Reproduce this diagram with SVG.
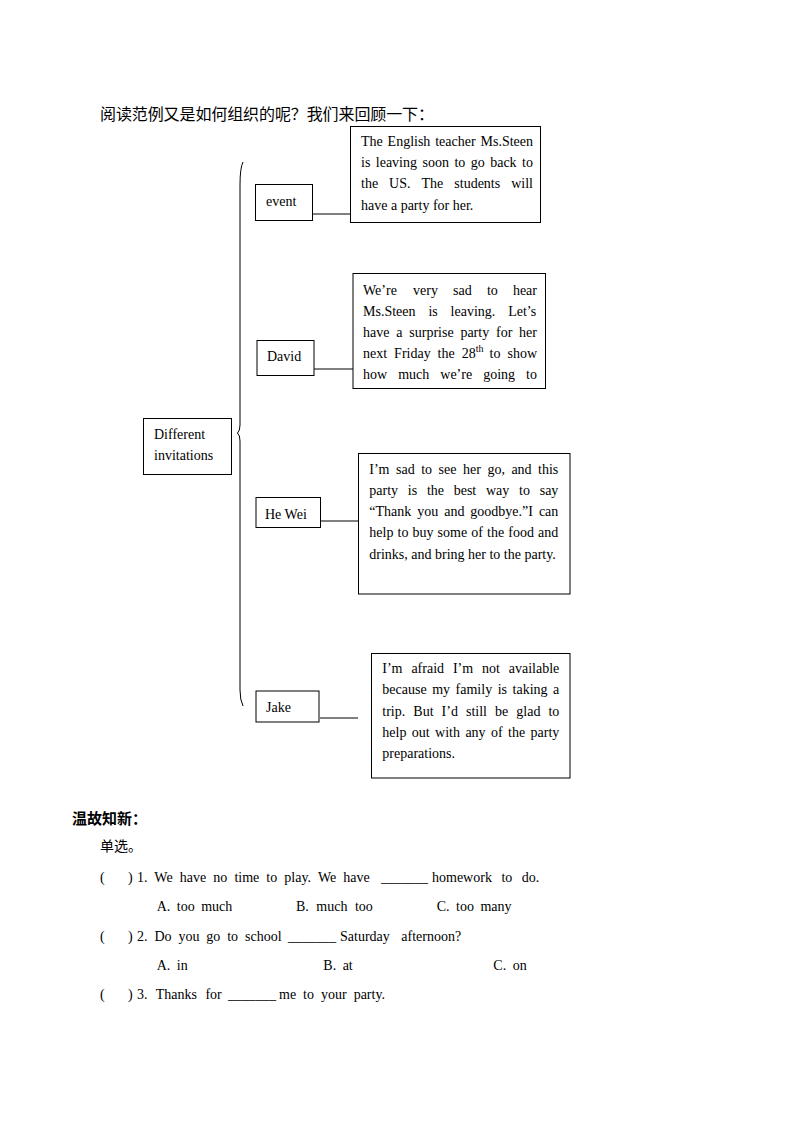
<svg xmlns="http://www.w3.org/2000/svg" width="794" height="1123" viewBox="0 0 794 1123">
<style>
.bx{fill:#fff;stroke:#000;stroke-width:1}
.t{font-family:"Liberation Serif","Times New Roman",serif;font-size:14px;fill:#000}
.cn{font-family:"Noto Sans CJK SC",sans-serif;fill:#000}
.ln{stroke:#000;stroke-width:1;fill:none}
</style>
<rect width="794" height="1123" fill="#fff"/>
<text class="cn" x="100" y="120" font-size="16" textLength="334">阅读范例又是如何组织的呢？我们来回顾一下：</text>

<g id="connectors">
<path class="ln" stroke="#333" d="M243,162 Q240,168 240,185 L240,425 Q240,431 237.5,433 Q240,435 240,441 L240,690 Q240,700 243,706"/>
<line class="ln" x1="313" y1="214" x2="350" y2="214"/>
<line class="ln" x1="314" y1="369" x2="353" y2="369"/>
<line class="ln" x1="321" y1="521" x2="358" y2="521"/>
<line class="ln" x1="320" y1="718" x2="358" y2="718"/>
</g>

<g id="root">
<rect class="bx" x="143.5" y="418.5" width="88" height="56"/>
<text class="t" x="154" y="439">Different</text>
<text class="t" x="154" y="460">invitations</text>
</g>

<g id="event">
<rect class="bx" x="255.5" y="184.5" width="57" height="36"/>
<text class="t" x="266" y="206">event</text>
</g>
<g id="event-text">
<rect class="bx" x="350.5" y="126.5" width="190" height="96"/>
<text class="t" y="145.5"><tspan x="361">The</tspan><tspan x="387.6">English</tspan><tspan x="435.2">teacher</tspan><tspan x="480.5">Ms.Steen</tspan></text>
<text class="t" y="166.5"><tspan x="361">is</tspan><tspan x="375.8">leaving</tspan><tspan x="422.5">soon</tspan><tspan x="454.4">to</tspan><tspan x="470.8">go</tspan><tspan x="490.2">back</tspan><tspan x="522.1">to</tspan></text>
<text class="t" y="187.5"><tspan x="361">the</tspan><tspan x="389.1">US.</tspan><tspan x="421.5">The</tspan><tspan x="454.3">students</tspan><tspan x="511.2">will</tspan></text>
<text class="t" x="361" y="209.5">have a party for her.</text>
</g>

<g id="david">
<rect class="bx" x="257" y="340.5" width="57" height="35"/>
<text class="t" x="267" y="361">David</text>
</g>
<g id="david-text">
<rect class="bx" x="353" y="273.5" width="192.5" height="115"/>
<text class="t" y="295"><tspan x="363">We’re</tspan><tspan x="413.1">very</tspan><tspan x="453.1">sad</tspan><tspan x="486.9">to</tspan><tspan x="512.9">hear</tspan></text>
<text class="t" y="316"><tspan x="363">Ms.Steen</tspan><tspan x="428.4">is</tspan><tspan x="450.6">leaving.</tspan><tspan x="508.2">Let’s</tspan></text>
<text class="t" y="337"><tspan x="363">have</tspan><tspan x="396.2">a</tspan><tspan x="409.3">surprise</tspan><tspan x="460.4">party</tspan><tspan x="496">for</tspan><tspan x="519.1">her</tspan></text>
<text class="t" y="358"><tspan x="363">next</tspan><tspan x="394.1">Friday</tspan><tspan x="437.6">the</tspan><tspan x="461.7">28</tspan><tspan x="475.7" y="352" font-size="10">th</tspan><tspan x="489.6" y="358">to</tspan><tspan x="507.5">show</tspan></text>
<text class="t" y="379"><tspan x="363">how</tspan><tspan x="398.2">much</tspan><tspan x="440.3">we’re</tspan><tspan x="483.2">going</tspan><tspan x="526.1">to</tspan></text>
</g>

<g id="hewei">
<rect class="bx" x="256" y="497.5" width="64.5" height="30"/>
<text class="t" x="265" y="519">He Wei</text>
</g>
<g id="hewei-text">
<rect class="bx" x="358.5" y="453.5" width="211.5" height="140.5"/>
<text class="t" y="474"><tspan x="369.3">I’m</tspan><tspan x="396">sad</tspan><tspan x="421.2">to</tspan><tspan x="438.6">see</tspan><tspan x="463">her</tspan><tspan x="487.4">go,</tspan><tspan x="511.4">and</tspan><tspan x="538.1">this</tspan></text>
<text class="t" y="495"><tspan x="369.3">party</tspan><tspan x="407.8">is</tspan><tspan x="426.9">the</tspan><tspan x="453.7">best</tspan><tspan x="486">way</tspan><tspan x="519.1">to</tspan><tspan x="539.7">say</tspan></text>
<text class="t" y="516"><tspan x="369.3">“Thank</tspan><tspan x="417.2">you</tspan><tspan x="444.2">and</tspan><tspan x="470.3">goodbye.”I</tspan><tspan x="538.9">can</tspan></text>
<text class="t" y="537"><tspan x="369.3">help</tspan><tspan x="397.5">to</tspan><tspan x="412.5">buy</tspan><tspan x="437.6">some</tspan><tspan x="471.3">of</tspan><tspan x="487.1">the</tspan><tspan x="508.3">food</tspan><tspan x="538.1">and</tspan></text>
<text class="t" x="369.3" y="558.5">drinks, and bring her to the party.</text>
</g>

<g id="jake">
<rect class="bx" x="256" y="691" width="63" height="31"/>
<text class="t" x="266" y="712">Jake</text>
</g>
<g id="jake-text">
<rect class="bx" x="371.5" y="653.5" width="198.5" height="124.5"/>
<text class="t" y="673"><tspan x="382.3">I’m</tspan><tspan x="411.4">afraid</tspan><tspan x="452.9">I’m</tspan><tspan x="482">not</tspan><tspan x="508.8">available</tspan></text>
<text class="t" y="694"><tspan x="382.3">because</tspan><tspan x="432.2">my</tspan><tspan x="455.6">family</tspan><tspan x="497.7">is</tspan><tspan x="512.6">taking</tspan><tspan x="553.1">a</tspan></text>
<text class="t" y="716"><tspan x="382.3">trip.</tspan><tspan x="413.3">But</tspan><tspan x="441.6">I’d</tspan><tspan x="466">still</tspan><tspan x="495">be</tspan><tspan x="516.3">glad</tspan><tspan x="548.4">to</tspan></text>
<text class="t" y="737"><tspan x="382.3">help</tspan><tspan x="411.8">out</tspan><tspan x="435.1">with</tspan><tspan x="465.4">any</tspan><tspan x="491">of</tspan><tspan x="508.1">the</tspan><tspan x="530.6">party</tspan></text>
<text class="t" x="382.3" y="758">preparations.</text>
</g>

<text class="cn" x="72" y="823.5" font-size="15" font-weight="bold">温故知新：</text>
<text class="cn" x="100" y="851" font-size="14">单选。</text>

<g id="questions">
<text class="t" x="100" y="882">(</text><text class="t" x="128" y="882">)</text>
<text class="t" x="137" y="882" word-spacing="3.6">1. We have no time to play. We have</text>
<text class="t" x="381" y="882" textLength="47" lengthAdjust="spacingAndGlyphs">_______</text>
<text class="t" x="432" y="882" word-spacing="6">homework to do.</text>
<text class="t" x="156.7" y="911" word-spacing="3">A. too much</text>
<text class="t" x="296" y="911" word-spacing="4">B. much too</text>
<text class="t" x="436.7" y="911" word-spacing="3">C. too many</text>
<text class="t" x="100" y="941">(</text><text class="t" x="128" y="941">)</text>
<text class="t" x="137" y="941" word-spacing="3.4">2. Do you go to school</text>
<text class="t" x="288" y="941" textLength="48" lengthAdjust="spacingAndGlyphs">_______</text>
<text class="t" x="340" y="941" word-spacing="8">Saturday afternoon?</text>
<text class="t" x="156.7" y="970" word-spacing="3">A. in</text>
<text class="t" x="323.3" y="970" word-spacing="3">B. at</text>
<text class="t" x="493.3" y="970" word-spacing="3">C. on</text>
<text class="t" x="100" y="999">(</text><text class="t" x="128" y="999">)</text>
<text class="t" x="137" y="999" word-spacing="5">3. Thanks for</text>
<text class="t" x="228" y="999" textLength="48" lengthAdjust="spacingAndGlyphs">_______</text>
<text class="t" x="279" y="999" word-spacing="3.5">me to your party.</text>
</g>
</svg>
